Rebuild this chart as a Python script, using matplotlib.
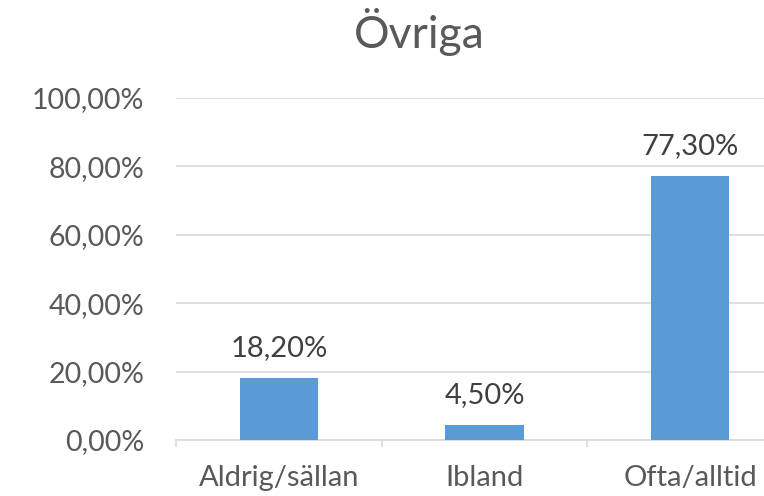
import matplotlib
matplotlib.use("Agg")
import matplotlib.pyplot as plt
from matplotlib.ticker import FixedLocator

categories = ["Aldrig/sällan", "Ibland", "Ofta/alltid"]
values = [18.2, 4.5, 77.3]
yticks = [0, 20, 40, 60, 80, 100]
title = "Övriga"

plt.rcParams['font.family'] = ['Lato', 'DejaVu Sans']

fig = plt.figure(figsize=(7.64, 4.96), dpi=100)
ax = fig.add_axes([176/764, 56/496, 617/764, 342/496])

x = list(range(len(categories)))
ax.bar(x, values, width=0.38, color="#5B9BD5", zorder=3)

for xi, v in zip(x, values):
    ax.annotate(f"{v:.2f}".replace(".", ",") + "%", (xi, v), xytext=(0, 12),
                textcoords="offset points", ha="center", va="bottom",
                fontsize=21, color="#404040")

ax.set_xlim(-0.5, 2.5)
ax.set_ylim(0, 100)
ax.set_yticks(yticks)
ax.set_yticklabels([f"{t:.2f}".replace(".", ",") + "%" for t in yticks])
ax.set_xticks(x)
ax.set_xticklabels(categories)
ax.xaxis.set_minor_locator(FixedLocator([-0.5, 0.5, 1.5, 2.5]))
ax.tick_params(axis="x", which="major", length=0, pad=18, labelsize=21, labelcolor="#595959")
ax.tick_params(axis="x", which="minor", length=5, color="#D9D9D9", width=1.2)
ax.tick_params(axis="y", length=0, pad=23, labelsize=20.5, labelcolor="#595959")

ax.yaxis.grid(True, color="#D9D9D9", linewidth=1.2, zorder=0)
for s in ["left", "right", "top"]:
    ax.spines[s].set_visible(False)
ax.spines["bottom"].set_color("#D9D9D9")
ax.spines["bottom"].set_linewidth(1.2)

fig.text(419/764, 1 - 32/496, title, ha="center", va="center", fontsize=32, color="#595959")

fig.savefig("out.png", dpi=100, facecolor="white")
